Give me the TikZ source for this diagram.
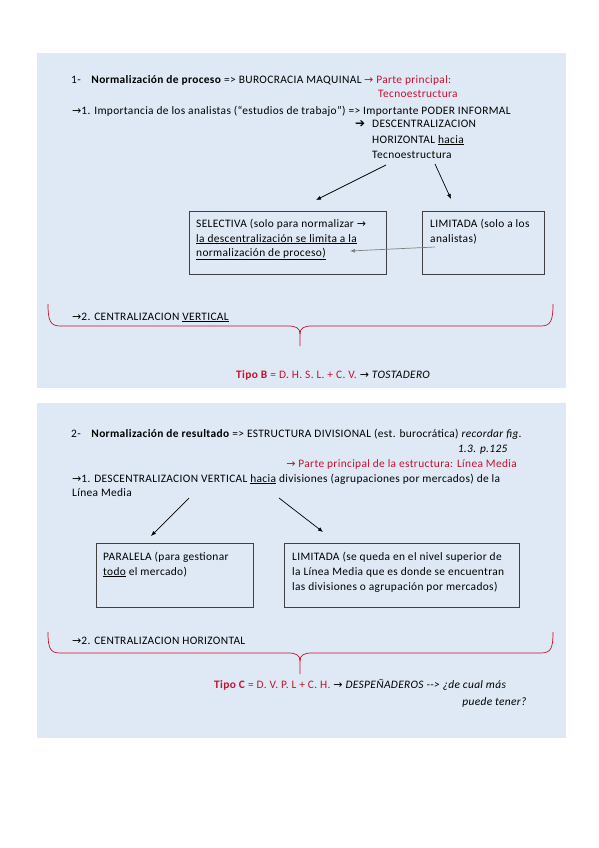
\documentclass[tikz,border=0pt]{standalone}
\usepackage{fontspec}
\setmainfont{Carlito}[LetterSpace=3]
\newfontfamily\symf{DejaVu Sans}
\usetikzlibrary{arrows.meta}
\definecolor{panelbg}{HTML}{DEE9F5}
\definecolor{redtxt}{HTML}{C8102E}
\definecolor{boxline}{HTML}{404040}
\newcommand{\rarr}{{\symf\fontsize{11}{11}\selectfont →}}
\newcommand{\barr}{{\symf\fontsize{12}{12}\selectfont ➔}}
\begin{document}
\begin{tikzpicture}[x=1pt,y=-1pt,
  txt/.style={anchor=base west,inner sep=0pt,font=\fontsize{11.4}{15}\selectfont},
  rtxt/.style={txt,text=redtxt},
  panel/.style={fill=panelbg,draw=none},
  optbox/.style={draw=boxline,line width=0.8pt,fill=none},
  conn/.style={-{Latex[length=5pt,width=4pt]},line width=0.7pt,black},
  gconn/.style={-{Latex[length=5pt,width=4pt]},line width=0.7pt,gray},
  brace/.style={draw=redtxt,line width=0.7pt}]
\useasboundingbox (0,0) rectangle (599,848);
\fill[white] (0,0) rectangle (599,848);
% panels
\path[panel] (37,53) rectangle (566,388);
\path[panel] (37,403) rectangle (566,738);

% ---------- panel 1 ----------
\node[txt] (t1) at (71,84) {1-\hspace{0.9em}\textbf{Normalización de proceso} => BUROCRACIA MAQUINAL};
\node[rtxt] (t1r) at (364,84) {\rarr{} Parte principal:};
\node[rtxt] (t1r2) at (378,98) {Tecnoestructura};
\node[txt] (t2) at (72,114) {\rarr1. Importancia de los analistas (“estudios de trabajo”) => Importante PODER INFORMAL};
\node[txt] (t3a) at (355,128) {\barr};
\node[txt] (t3) at (372,128) {DESCENTRALIZACION};
\node[txt] (t4) at (372,143) {HORIZONTAL \underline{hacia}};
\node[txt] (t5) at (372,158) {Tecnoestructura};

\node[optbox,minimum width=197pt,minimum height=63pt,anchor=north west] (sel) at (189,211) {};
\node[optbox,minimum width=122pt,minimum height=63pt,anchor=north west] (lim1) at (422,211) {};
\node[txt] (s1) at (196,227) {SELECTIVA (solo para normalizar \rarr};
\node[txt] (s2) at (196,242) {\underline{la descentralización se limita a la}};
\node[txt] (s3) at (196,256) {\underline{normalización de proceso)}};
\node[txt] (l1) at (430,227) {LIMITADA (solo a los};
\node[txt] (l2) at (430,242) {analistas)};

\coordinate (a1s) at (386,165);
\coordinate (a1e) at (316,200);
\coordinate (a2s) at (435,164);
\coordinate (a2e) at (451,199);
\coordinate (g1s) at (435,247);
\coordinate (g1e) at (350,251);
\draw[conn] (a1s) -- (a1e);
\draw[conn] (a2s) -- (a2e);
\draw[gconn] (g1s) -- (g1e);

\node[txt] (c1) at (72,320) {\rarr2. CENTRALIZACION \underline{VERTICAL}};
\draw[brace] (48,304) .. controls (48,320) and (50,326) .. (60,326) -- (288,326)
  .. controls (296,326) and (300,328) .. (300,334) -- (300,346);
\draw[brace] (300,334) .. controls (300,328) and (304,326) .. (312,326) -- (541,326)
  .. controls (551,326) and (553,320) .. (553,304);
\node[rtxt] (tb) at (236,378) {\textbf{Tipo B} = D. H. S. L. + C. V. \textcolor{black}{\rarr{} \textit{TOSTADERO}}};

% ---------- panel 2 ----------
\node[txt] (u1) at (71,437) {2-\hspace{0.9em}\textbf{Normalización de resultado} => ESTRUCTURA DIVISIONAL (est. burocrática) \textit{recordar fig.}};
\node[txt,anchor=base east] (u1b) at (508,452) {\textit{1.3. p.125}};
\node[rtxt,anchor=base east] (u1r) at (517,467) {\rarr{} Parte principal de la estructura: Línea Media};
\node[txt] (u2) at (72,482) {\rarr1. DESCENTRALIZACION VERTICAL \underline{hacia} divisiones (agrupaciones por mercados) de la};
\node[txt] (u3) at (72,496) {Línea Media};

\node[optbox,minimum width=157pt,minimum height=64pt,anchor=north west] (par) at (96,543) {};
\node[optbox,minimum width=235pt,minimum height=64pt,anchor=north west] (lim2) at (284,543) {};
\node[txt] (p1) at (103,560) {PARALELA (para gestionar};
\node[txt] (p2) at (103,575) {\underline{todo} el mercado)};
\node[txt] (m1) at (292,560) {LIMITADA (se queda en el nivel superior de};
\node[txt] (m2) at (292,575) {la Línea Media que es donde se encuentran};
\node[txt] (m3) at (292,590) {las divisiones o agrupación por mercados)};

\coordinate (b1s) at (189,498);
\coordinate (b1e) at (151,536);
\coordinate (b2s) at (279,498);
\coordinate (b2e) at (323,532);
\draw[conn] (b1s) -- (b1e);
\draw[conn] (b2s) -- (b2e);

\node[txt] (c2) at (72,644) {\rarr2. CENTRALIZACION HORIZONTAL};
\draw[brace] (48,632) .. controls (48,648) and (50,653) .. (60,653) -- (288,653)
  .. controls (296,653) and (300,655) .. (300,661) -- (300,674);
\draw[brace] (300,661) .. controls (300,655) and (304,653) .. (312,653) -- (541,653)
  .. controls (551,653) and (553,648) .. (553,632);
\node[rtxt] (tc) at (214,688) {\textbf{Tipo C} = D. V. P. L + C. H. \textcolor{black}{\rarr{} \textit{DESPEÑADEROS -{}-{}> ¿de cual más}}};
\node[txt,anchor=base east] (tc2) at (527,705) {\textit{puede tener?}};
\end{tikzpicture}
\end{document}
